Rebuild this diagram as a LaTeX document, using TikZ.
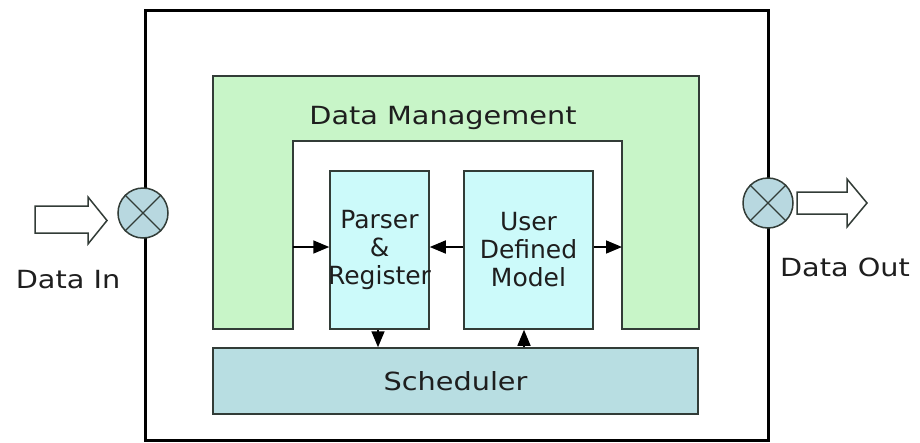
\documentclass[tikz,border=0pt]{standalone}
\usepackage{fontspec}
\setmainfont{DejaVu Sans}
\newfontfamily\widefont{DejaVu Sans}[FakeStretch=1.15]
\usetikzlibrary{arrows.meta}
\definecolor{dmgreen}{RGB}{200,245,200}
\definecolor{boxcyan}{RGB}{204,250,250}
\definecolor{schedblue}{RGB}{184,222,226}
\definecolor{mixblue}{RGB}{184,216,224}
\definecolor{edge}{RGB}{50,60,55}
\definecolor{ink}{RGB}{30,30,30}
\tikzset{
  part/.style={draw=edge, line width=1.5pt, inner sep=0pt},
  modbox/.style={part, fill=boxcyan},
  modtext/.style={text=ink, align=center, inner sep=0pt,
    font=\fontsize{25}{28}\selectfont},
  widelabel/.style={text=ink, inner sep=0pt, font=\widefont\fontsize{25}{28}\selectfont},
  mixer/.style={circle, draw=edge, line width=1.5pt, fill=mixblue, minimum size=50pt, inner sep=0pt},
  flow/.style={draw=black, line width=1.6pt, -{Triangle[length=16pt,width=13pt]}},
  hollow/.style={draw=edge, line width=1.5pt, fill=white, line join=miter}
}
\begin{document}
\begin{tikzpicture}[x=1pt,y=-1pt]
\useasboundingbox (0,0) rectangle (920,442);
% outer box
\node[draw=black, line width=3pt, minimum width=623pt, minimum height=430pt, inner sep=0pt] (outer) at (456.5,225) {};
% data management (green U shape)
\draw[part, fill=dmgreen] (213,76) -- (699,76) -- (699,329) -- (622,329) -- (622,141)
  -- (293,141) -- (293,329) -- (213,329) -- cycle;
\node[widelabel, anchor=base] (dm) at (443,124) {Data Management};
% modules
\node[modbox, minimum width=99pt, minimum height=158pt] (parser) at (379.5,250) {};
\node[modtext] (ptext) at (parser.center) {Parser\\\&\\Register};
\node[modbox, minimum width=129pt, minimum height=158pt] (user) at (528.5,250) {};
\node[modtext] (utext) at (user.center) {User\\Defined\\Model};
\node[part, fill=schedblue, minimum width=485pt, minimum height=66pt] (sched) at (455.5,381) {};
\node[widelabel] (stext) at (sched.center) {Scheduler};
% wall coordinates
\coordinate (wl) at (293,247);
\coordinate (wr) at (622,247);
\draw[flow] (wl) -- (wl -| parser.west);
\draw[flow] (user.west |- wl) -- (parser.east |- wl);
\draw[flow] (user.east |- wl) -- (wr);
\draw[flow] (parser.south -| 378,0) -- (sched.north -| 378,0);
\draw[flow] (sched.north -| 524,0) -- (user.south -| 524,0);
% mixers
\node[mixer] (inmix) at (143,213) {};
\draw[edge, line width=1.3pt] (inmix.north west) -- (inmix.south east) (inmix.north east) -- (inmix.south west);
\node[mixer] (outmix) at (768,203) {};
\draw[edge, line width=1.3pt] (outmix.north west) -- (outmix.south east) (outmix.north east) -- (outmix.south west);
% hollow arrows
\draw[hollow] (35,206) -- (88,206) -- (88,197) -- (107,220.5) -- (88,244) -- (88,233) -- (35,233) -- cycle;
\draw[hollow] (797,192) -- (847,192) -- (847,179) -- (867,203) -- (847,227) -- (847,214) -- (797,214) -- cycle;
% labels
\node[widelabel, anchor=base] (din) at (68,288) {Data In};
\node[widelabel, anchor=base] (dout) at (845,276) {Data Out};
\end{tikzpicture}
\end{document}
